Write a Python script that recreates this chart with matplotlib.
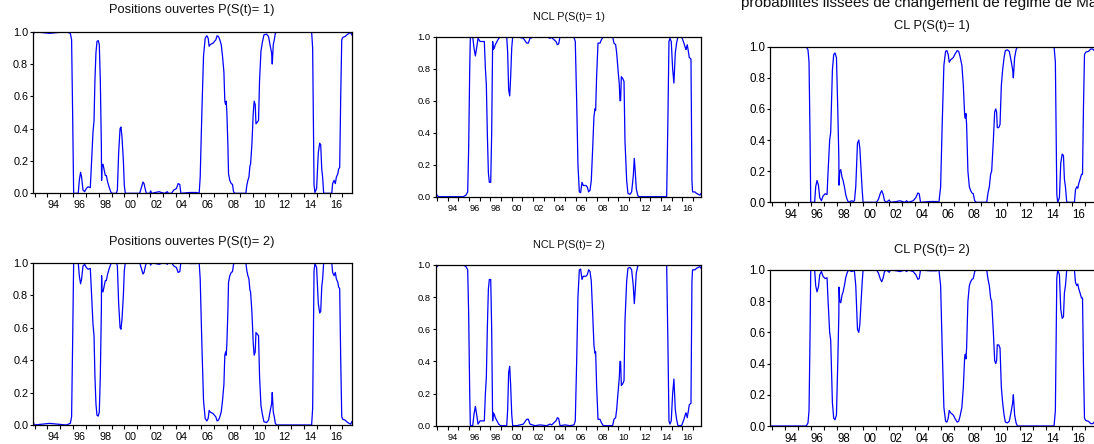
import matplotlib
matplotlib.use("Agg")
import matplotlib.pyplot as plt

plt.rcParams['font.family'] = ['Liberation Sans', 'DejaVu Sans']

# ---------------- data (decimal years, smoothed probabilities) ----------------
po_t = [1992.87, 1992.96, 1994.16, 1995.46, 1995.78, 1995.88, 1995.96, 1996.04, 1996.40, 1996.48,
        1996.58, 1996.66, 1996.77, 1996.90, 1997.03, 1997.16, 1997.34, 1997.44, 1997.55, 1997.63,
        1997.70, 1997.78, 1997.86, 1997.96, 1998.04, 1998.12, 1998.20, 1998.22, 1998.25, 1998.33,
        1998.43, 1998.51, 1998.59, 1998.69, 1998.80, 1998.93, 1999.01, 1999.37, 1999.45, 1999.55,
        1999.66, 1999.73, 1999.81, 1999.92, 1999.99, 2000.07, 2001.19, 2001.30, 2001.45, 2001.53,
        2001.64, 2001.71, 2001.97, 2002.05, 2002.13, 2002.70, 2002.88, 2003.14, 2003.35, 2003.43,
        2003.67, 2003.85, 2004.06, 2004.19, 2004.32, 2004.40, 2005.10, 2005.62, 2005.83, 2005.91,
        2006.04, 2006.17, 2006.30, 2006.43, 2006.53, 2006.61, 2006.69, 2006.92, 2007.13, 2007.23,
        2007.34, 2007.44, 2007.55, 2007.65, 2007.76, 2007.83, 2007.89, 2007.94, 2007.99, 2008.07,
        2008.12, 2008.22, 2008.33, 2008.43, 2008.51, 2008.61, 2009.47, 2009.55, 2009.63, 2009.71,
        2009.79, 2009.84, 2009.94, 2010.05, 2010.12, 2010.20, 2010.26, 2010.36, 2010.46, 2010.54,
        2010.65, 2010.75, 2010.88, 2011.09, 2011.24, 2011.40, 2011.48, 2011.53, 2011.61, 2011.69,
        2011.77, 2011.87, 2014.60, 2014.68, 2014.73, 2014.79, 2014.86, 2014.99, 2015.12, 2015.23,
        2015.31, 2015.39, 2015.46, 2015.54, 2016.17, 2016.24, 2016.35, 2016.45, 2016.53, 2016.64,
        2016.71, 2016.79, 2016.87, 2016.95, 2017.03, 2017.21, 2017.34, 2017.52, 2017.65, 2017.73]
po_p1 = [0.97, 1.0, 0.99, 1.0, 0.99, 0.95, 0.5, 0.0, 0.0, 0.08,
         0.13, 0.10, 0.02, 0.01, 0.03, 0.04, 0.035, 0.2, 0.38, 0.45,
         0.7, 0.87, 0.94, 0.945, 0.92, 0.7, 0.3, 0.08, 0.17, 0.18,
         0.14, 0.11, 0.11, 0.07, 0.04, 0.01, 0.0, 0.0, 0.02, 0.25,
         0.4, 0.41, 0.35, 0.2, 0.05, 0.0, 0.0, 0.03, 0.07, 0.06,
         0.02, 0.0, 0.0, 0.015, 0.0, 0.01, 0.005, 0.0, 0.01, 0.0,
         0.0, 0.02, 0.03, 0.06, 0.055, 0.0, 0.005, 0.005, 0.0, 0.1,
         0.5, 0.85, 0.96, 0.975, 0.96, 0.91, 0.92, 0.93, 0.95, 0.975,
         0.97, 0.95, 0.92, 0.85, 0.75, 0.57, 0.55, 0.57, 0.5, 0.3,
         0.12, 0.08, 0.06, 0.055, 0.01, 0.0, 0.0, 0.05, 0.08, 0.10,
         0.17, 0.18, 0.3, 0.5, 0.57, 0.55, 0.43, 0.44, 0.45, 0.7,
         0.88, 0.93, 0.98, 0.985, 0.97, 0.9, 0.87, 0.8, 0.92, 0.95,
         0.99, 1.0, 1.0, 0.9, 0.5, 0.05, 0.005, 0.03, 0.25, 0.31,
         0.3, 0.15, 0.1, 0.0, 0.0, 0.06, 0.08, 0.06, 0.1, 0.12,
         0.15, 0.16, 0.6, 0.95, 0.965, 0.97, 0.98, 0.99, 0.995, 0.98]
po_p2 = [0.03, 0.0, 0.01, 0.0, 0.01, 0.05, 0.5, 1.0, 1.0, 0.92,
         0.87, 0.90, 0.98, 0.99, 0.97, 0.96, 0.965, 0.8, 0.62, 0.55,
         0.3, 0.13, 0.06, 0.055, 0.08, 0.3, 0.7, 0.92, 0.83, 0.82,
         0.86, 0.89, 0.89, 0.93, 0.96, 0.99, 1.0, 1.0, 0.98, 0.75,
         0.6, 0.59, 0.65, 0.8, 0.95, 1.0, 1.0, 0.97, 0.93, 0.94,
         0.98, 1.0, 1.0, 0.985, 1.0, 0.99, 0.995, 1.0, 0.99, 1.0,
         1.0, 0.98, 0.97, 0.94, 0.945, 1.0, 0.995, 0.995, 1.0, 0.9,
         0.5, 0.15, 0.04, 0.025, 0.04, 0.09, 0.08, 0.07, 0.05, 0.025,
         0.03, 0.05, 0.08, 0.15, 0.25, 0.43, 0.45, 0.43, 0.5, 0.7,
         0.88, 0.92, 0.94, 0.945, 0.99, 1.0, 1.0, 0.95, 0.92, 0.90,
         0.83, 0.82, 0.7, 0.5, 0.43, 0.45, 0.57, 0.56, 0.55, 0.3,
         0.12, 0.07, 0.02, 0.015, 0.03, 0.1, 0.13, 0.2, 0.08, 0.05,
         0.01, 0.0, 0.0, 0.1, 0.5, 0.95, 0.995, 0.97, 0.75, 0.69,
         0.7, 0.85, 0.9, 1.0, 1.0, 0.94, 0.92, 0.94, 0.9, 0.88,
         0.85, 0.84, 0.4, 0.05, 0.035, 0.03, 0.02, 0.01, 0.005, 0.02]

ncl_t = [1992.87, 1993.12, 1995.46, 1995.71, 1995.87, 1995.96, 1996.06, 1996.12, 1996.34, 1996.46,
         1996.59, 1996.71, 1996.84, 1997.03, 1997.34, 1997.43, 1997.53, 1997.62, 1997.71, 1997.81,
         1997.90, 1998.03, 1998.12, 1998.21, 1998.28, 1998.37, 1998.46, 1998.62, 1998.78, 1998.96,
         1999.53, 1999.62, 1999.71, 1999.81, 1999.90, 2000.00, 2000.09, 2000.46, 2001.09, 2001.40,
         2001.56, 2001.71, 2002.18, 2002.65, 2003.28, 2003.59, 2003.745, 2004.15, 2004.28, 2004.40,
         2004.53, 2005.00, 2005.46, 2005.84, 2005.96, 2006.09, 2006.21, 2006.34, 2006.46, 2006.59,
         2006.71, 2006.96, 2007.09, 2007.21, 2007.34, 2007.46, 2007.59, 2007.71, 2007.81, 2007.87,
         2007.96, 2008.09, 2008.28, 2008.40, 2008.59, 2009.46, 2009.59, 2009.745, 2009.84, 2009.96,
         2010.09, 2010.15, 2010.21, 2010.28, 2010.40, 2010.53, 2010.62, 2010.78, 2010.90, 2011.09,
         2011.245, 2011.40, 2011.495, 2011.59, 2011.68, 2011.81, 2011.90, 2014.53, 2014.65, 2014.745,
         2014.84, 2014.96, 2015.09, 2015.21, 2015.34, 2015.46, 2015.59, 2015.93, 2016.15, 2016.28,
         2016.34, 2016.46, 2016.56, 2016.65, 2016.81, 2016.90, 2016.96, 2017.18, 2017.34, 2017.495,
         2017.65, 2017.75]
ncl_p1 = [0.02, 0.0, 0.0, 0.01, 0.03, 0.3, 0.8, 1.0, 1.0, 0.93,
          0.88, 0.93, 0.99, 0.97, 0.97, 0.97, 0.8, 0.7, 0.4, 0.15,
          0.09, 0.09, 0.4, 0.97, 0.92, 0.93, 0.95, 0.97, 0.99, 1.0,
          1.0, 0.9, 0.67, 0.63, 0.75, 0.93, 1.0, 1.0, 0.99, 0.96,
          0.96, 0.99, 1.0, 0.995, 1.0, 0.99, 0.995, 0.97, 0.95, 0.955,
          1.0, 0.995, 1.0, 0.995, 0.97, 0.6, 0.2, 0.03, 0.025, 0.09,
          0.07, 0.07, 0.06, 0.03, 0.04, 0.1, 0.3, 0.5, 0.55, 0.54,
          0.75, 0.96, 0.96, 0.98, 1.0, 1.0, 0.96, 0.95, 0.9, 0.8,
          0.7, 0.6, 0.6, 0.75, 0.74, 0.72, 0.35, 0.1, 0.02, 0.015,
          0.03, 0.13, 0.24, 0.15, 0.05, 0.01, 0.0, 0.0, 0.5, 0.97,
          0.99, 0.97, 0.8, 0.71, 0.9, 0.96, 1.0, 1.0, 0.96, 0.93,
          0.92, 0.95, 0.91, 0.87, 0.86, 0.1, 0.03, 0.03, 0.02, 0.015,
          0.01, 0.02]
ncl_p2 = [0.98, 1.0, 1.0, 0.99, 0.97, 0.7, 0.2, 0.0, 0.0, 0.07,
          0.12, 0.07, 0.01, 0.03, 0.03, 0.03, 0.2, 0.3, 0.6, 0.85,
          0.91, 0.91, 0.6, 0.03, 0.08, 0.07, 0.05, 0.03, 0.01, 0.0,
          0.0, 0.1, 0.33, 0.37, 0.25, 0.07, 0.0, 0.0, 0.01, 0.04,
          0.04, 0.01, 0.0, 0.005, 0.0, 0.01, 0.005, 0.03, 0.05, 0.045,
          0.0, 0.005, 0.0, 0.005, 0.03, 0.4, 0.8, 0.97, 0.975, 0.91,
          0.93, 0.93, 0.94, 0.97, 0.96, 0.9, 0.7, 0.5, 0.45, 0.46,
          0.25, 0.04, 0.04, 0.02, 0.0, 0.0, 0.04, 0.05, 0.1, 0.2,
          0.3, 0.4, 0.4, 0.25, 0.26, 0.28, 0.65, 0.9, 0.98, 0.985,
          0.97, 0.87, 0.76, 0.85, 0.95, 0.99, 1.0, 1.0, 0.5, 0.03,
          0.01, 0.03, 0.2, 0.29, 0.1, 0.04, 0.0, 0.0, 0.04, 0.07,
          0.08, 0.05, 0.09, 0.13, 0.14, 0.9, 0.97, 0.97, 0.98, 0.985,
          0.99, 0.98]

cl_t = [1992.87, 1992.89, 1995.65, 1995.78, 1995.86, 1995.94, 1995.99, 1996.29, 1996.37, 1996.47,
        1996.58, 1996.68, 1996.81, 1996.93, 1997.09, 1997.24, 1997.32, 1997.44, 1997.52, 1997.65,
        1997.75, 1997.85, 1997.96, 1998.06, 1998.14, 1998.16, 1998.21, 1998.29, 1998.39, 1998.47,
        1998.57, 1998.67, 1998.77, 1998.88, 1999.13, 1999.24, 1999.34, 1999.44, 1999.57, 1999.67,
        1999.75, 1999.85, 1999.93, 2000.00, 2001.03, 2001.18, 2001.33, 2001.43, 2001.54, 2001.64,
        2001.79, 2002.00, 2002.10, 2002.56, 2002.82, 2003.02, 2003.20, 2003.33, 2003.46, 2003.84,
        2004.04, 2004.20, 2004.30, 2004.40, 2005.12, 2005.63, 2005.81, 2005.94, 2006.06, 2006.19,
        2006.32, 2006.42, 2006.52, 2006.60, 2006.70, 2006.91, 2007.06, 2007.21, 2007.32, 2007.42,
        2007.57, 2007.68, 2007.78, 2007.83, 2007.88, 2007.93, 2008.03, 2008.14, 2008.24, 2008.34,
        2008.44, 2008.55, 2008.65, 2009.47, 2009.57, 2009.67, 2009.77, 2009.85, 2009.98, 2010.08,
        2010.16, 2010.23, 2010.28, 2010.39, 2010.49, 2010.59, 2010.69, 2010.80, 2010.90, 2011.05,
        2011.20, 2011.36, 2011.46, 2011.51, 2011.61, 2011.72, 2011.82, 2014.63, 2014.73, 2014.78,
        2014.84, 2014.91, 2015.04, 2015.14, 2015.25, 2015.35, 2015.42, 2015.50, 2015.60, 2016.19,
        2016.27, 2016.37, 2016.45, 2016.52, 2016.63, 2016.73, 2016.81, 2016.88, 2016.96, 2017.06,
        2017.27, 2017.44, 2017.60, 2017.75]
cl_p1 = [0.97, 1.0, 1.0, 0.98, 0.9, 0.4, 0.0, 0.0, 0.1, 0.14,
         0.11, 0.03, 0.01, 0.04, 0.055, 0.05, 0.2, 0.4, 0.45, 0.85,
         0.95, 0.96, 0.93, 0.6, 0.3, 0.11, 0.2, 0.21, 0.16, 0.14,
         0.1, 0.05, 0.02, 0.0, 0.01, 0.005, 0.01, 0.1, 0.38, 0.4,
         0.35, 0.2, 0.08, 0.0, 0.0, 0.02, 0.06, 0.075, 0.05, 0.01,
         0.0, 0.015, 0.0, 0.005, 0.01, 0.005, 0.0, 0.01, 0.0, 0.01,
         0.03, 0.06, 0.055, 0.0, 0.005, 0.005, 0.0, 0.1, 0.5, 0.88,
         0.97, 0.975, 0.95, 0.9, 0.915, 0.93, 0.955, 0.975, 0.97, 0.94,
         0.88, 0.75, 0.56, 0.54, 0.57, 0.5, 0.2, 0.1, 0.075, 0.06,
         0.055, 0.01, 0.0, 0.0, 0.06, 0.1, 0.18, 0.2, 0.4, 0.58,
         0.6, 0.58, 0.48, 0.48, 0.5, 0.75, 0.85, 0.93, 0.975, 0.98,
         0.97, 0.9, 0.85, 0.8, 0.93, 0.98, 1.0, 1.0, 0.9, 0.5,
         0.05, 0.0, 0.03, 0.25, 0.31, 0.3, 0.15, 0.1, 0.0, 0.0,
         0.08, 0.1, 0.09, 0.12, 0.15, 0.18, 0.18, 0.6, 0.95, 0.965,
         0.97, 0.985, 0.985, 0.97]
cl_p2 = [0.03, 0.0, 0.0, 0.02, 0.1, 0.6, 1.0, 1.0, 0.9, 0.86,
         0.89, 0.97, 0.99, 0.96, 0.945, 0.95, 0.8, 0.6, 0.55, 0.15,
         0.05, 0.04, 0.07, 0.4, 0.7, 0.89, 0.8, 0.79, 0.84, 0.86,
         0.9, 0.95, 0.98, 1.0, 0.99, 0.995, 0.99, 0.9, 0.62, 0.6,
         0.65, 0.8, 0.92, 1.0, 1.0, 0.98, 0.94, 0.925, 0.95, 0.99,
         1.0, 0.985, 1.0, 0.995, 0.99, 0.995, 1.0, 0.99, 1.0, 0.99,
         0.97, 0.94, 0.945, 1.0, 0.995, 0.995, 1.0, 0.9, 0.5, 0.12,
         0.03, 0.025, 0.05, 0.1, 0.085, 0.07, 0.045, 0.025, 0.03, 0.06,
         0.12, 0.25, 0.44, 0.46, 0.43, 0.5, 0.8, 0.9, 0.925, 0.94,
         0.945, 0.99, 1.0, 1.0, 0.94, 0.9, 0.82, 0.8, 0.6, 0.42,
         0.4, 0.42, 0.52, 0.52, 0.5, 0.25, 0.15, 0.07, 0.025, 0.02,
         0.03, 0.1, 0.15, 0.2, 0.07, 0.02, 0.0, 0.0, 0.1, 0.5,
         0.95, 1.0, 0.97, 0.75, 0.69, 0.7, 0.85, 0.9, 1.0, 1.0,
         0.92, 0.9, 0.91, 0.88, 0.85, 0.82, 0.82, 0.4, 0.05, 0.035,
         0.03, 0.015, 0.015, 0.03]

x_label_years = [1994, 1996, 1998, 2000, 2002, 2004, 2006, 2008, 2010, 2012, 2014, 2016]
x_labels = ['94', '96', '98', '00', '02', '04', '06', '08', '10', '12', '14', '16']
y_ticks = [0.0, 0.2, 0.4, 0.6, 0.8, 1.0]
y_labels = ['0.0', '0.2', '0.4', '0.6', '0.8', '1.0']

titles = ['Positions ouvertes P(S(t)= 1)', 'Positions ouvertes P(S(t)= 2)',
          'NCL P(S(t)= 1)', 'NCL P(S(t)= 2)', 'CL P(S(t)= 1)', 'CL P(S(t)= 2)']
suptitle = 'probabilités lissées de changement de régime de Markov'

# ---------------- figure ----------------
W, H = 1094, 444
fig = plt.figure(figsize=(W / 100, H / 100), dpi=100)
fig.patch.set_facecolor('white')


def make_axes(left, top, right, bottom):
    return fig.add_axes([left / W, 1 - bottom / H, (right - left) / W, (bottom - top) / H])


def draw(ax, t, v, tick_fs, xpad):
    ax.plot(t, v, color='#0000ff', lw=0.9, solid_joinstyle='round')
    ax.set_xlim(1992.87, 2017.75)
    ax.set_ylim(0, 1)
    ax.set_yticks(y_ticks)
    ax.set_yticklabels(y_labels, fontsize=tick_fs)
    ax.set_xticks([y + 0.5 for y in x_label_years])
    ax.set_xticklabels(x_labels, fontsize=tick_fs)
    ax.set_xticks(list(range(1993, 2018)), minor=True)
    ax.tick_params(axis='x', which='major', length=0, pad=xpad)
    ax.tick_params(axis='x', which='minor', length=3, width=0.8, direction='out')
    ax.tick_params(axis='y', which='major', length=2, width=0.8, direction='out', pad=1.5)
    for s in ax.spines.values():
        s.set_color('black')
        s.set_linewidth(0.9)


def title(x, y, s, fs):
    fig.text(x / W, 1 - y / H, s, ha='center', va='center', fontsize=fs, color='#111111')


# Positions ouvertes
ax = make_axes(33, 31.7, 352, 193.3)
draw(ax, po_t, po_p1, 7.8, 5)
title(192, 10.5, titles[0], 9.3)
ax = make_axes(33, 262.7, 352, 425)
draw(ax, po_t, po_p2, 7.8, 5)
title(192, 242, titles[1], 9.3)

# NCL
ax = make_axes(435.7, 36.7, 701, 196.7)
draw(ax, ncl_t, ncl_p1, 6.7, 5.5)
title(568.5, 17, titles[2], 7.8)
ax = make_axes(435.7, 265, 701, 425.7)
draw(ax, ncl_t, ncl_p2, 6.7, 5.5)
title(568.5, 245, titles[3], 7.8)

# CL (right edge runs off the canvas as in the reference)
ax = make_axes(770, 46.7, 1094.8, 202.3)
draw(ax, cl_t, cl_p1, 8.3, 5)
title(932, 26.5, titles[4], 9.3)
ax = make_axes(770, 270, 1094.8, 426)
draw(ax, cl_t, cl_p2, 8.3, 5)
title(932, 249.5, titles[5], 9.3)

fig.text(741 / W, 1 - 7.5 / H, suptitle, ha='left', va='baseline', fontsize=11, color='#111111')

fig.savefig('out.png', dpi=100)
